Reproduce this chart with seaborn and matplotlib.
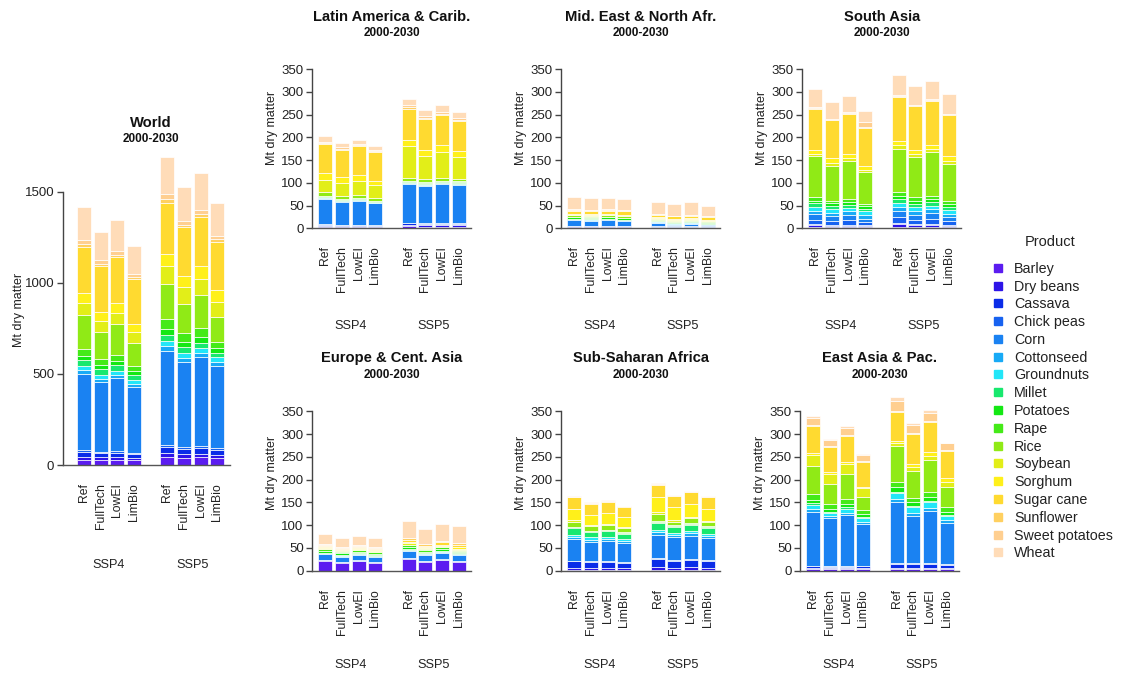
import numpy as np
import matplotlib
matplotlib.use("Agg")
import matplotlib.pyplot as plt
from matplotlib.lines import Line2D
import seaborn as sns

sns.set_theme(style="white")
plt.rcParams['font.family'] = ['Liberation Sans', 'DejaVu Sans']

products = ["Barley", "Dry beans", "Cassava", "Chick peas", "Corn", "Cottonseed",
            "Groundnuts", "Millet", "Potatoes", "Rape", "Rice", "Soybean", "Sorghum",
            "Sugar cane", "Sunflower", "Sweet potatoes", "Wheat"]
colors = ["#5b1cf0", "#2d14e8", "#0a2ce8", "#1762f0", "#1a82f2", "#18aaf6",
          "#22e6f8", "#18e86e", "#14e814", "#44ea18", "#90ea16", "#e2ee18",
          "#fff01a", "#ffda30", "#ffd060", "#ffcf90", "#ffdcb8"]
scenarios = ["Ref", "FullTech", "LowEI", "LimBio"]
ssps = ["SSP4", "SSP5"]
period = "2000-2030"

# rows: products (order above); cols: SSP4 Ref, FullTech, LowEI, LimBio, SSP5 Ref, FullTech, LowEI, LimBio
world = [
    [30, 28, 30, 28, 45, 40, 42, 38],
    [15, 14, 14, 12, 20, 18, 18, 16],
    [25, 22, 24, 20, 35, 30, 32, 28],
    [10, 8, 9, 8, 12, 10, 10, 10],
    [420, 385, 400, 360, 515, 470, 490, 450],
    [20, 18, 20, 18, 25, 22, 24, 22],
    [25, 22, 22, 22, 30, 28, 28, 28],
    [30, 28, 28, 25, 30, 28, 28, 25],
    [25, 22, 24, 22, 35, 30, 30, 28],
    [40, 35, 35, 30, 55, 50, 50, 30],
    [185, 150, 170, 125, 190, 160, 180, 140],
    [65, 60, 60, 60, 100, 90, 90, 80],
    [55, 50, 55, 45, 70, 60, 70, 65],
    [255, 250, 250, 245, 280, 270, 270, 265],
    [15, 14, 15, 15, 20, 15, 18, 15],
    [20, 18, 20, 15, 25, 22, 22, 20],
    [180, 155, 170, 155, 203, 185, 203, 180],
]
latin_america = [
    [2, 2, 2, 2, 4, 3, 3, 3],
    [3, 2, 2, 2, 4, 4, 4, 4],
    [3, 3, 3, 2, 3, 3, 3, 3],
    [1, 1, 1, 1, 1, 1, 1, 1],
    [56, 50, 52, 48, 85, 83, 86, 84],
    [2, 2, 2, 1, 2, 2, 2, 2],
    [1, 1, 1, 1, 1, 1, 1, 1],
    [1, 1, 1, 1, 1, 1, 1, 1],
    [2, 1, 2, 2, 2, 2, 2, 2],
    [1, 1, 1, 1, 2, 2, 2, 2],
    [7, 6, 6, 6, 5, 6, 6, 6],
    [28, 30, 30, 28, 70, 50, 56, 47],
    [15, 12, 14, 10, 15, 15, 15, 14],
    [63, 61, 63, 62, 68, 67, 66, 65],
    [2, 2, 2, 2, 3, 3, 3, 3],
    [3, 3, 3, 3, 5, 4, 5, 5],
    [12, 9, 9, 8, 14, 13, 15, 13],
]
mid_east = [
    [3, 3, 3, 3, 2, 2, 2, 2],
    [1, 1, 1, 1, 1, 1, 1, 1],
    [0, 0, 0, 0, 0, 0, 0, 0],
    [1, 1, 1, 1, 1, 1, 1, 1],
    [13, 12, 13, 11, 8, 4, 6, 3],
    [2, 2, 2, 2, 2, 2, 2, 2],
    [1, 1, 1, 1, 1, 1, 1, 1],
    [0, 0, 0, 0, 0, 0, 0, 0],
    [3, 3, 3, 3, 2, 2, 2, 2],
    [1, 1, 1, 1, 1, 1, 1, 1],
    [4, 4, 4, 4, 3, 3, 3, 3],
    [1, 1, 1, 1, 1, 1, 1, 1],
    [2, 2, 2, 2, 2, 2, 2, 2],
    [7, 7, 7, 7, 6, 6, 6, 6],
    [2, 2, 2, 2, 1, 1, 1, 1],
    [1, 1, 1, 1, 1, 1, 1, 1],
    [26, 26, 25, 24, 26, 26, 27, 22],
]
south_asia = [
    [2, 2, 2, 2, 3, 2, 3, 2],
    [5, 4, 4, 3, 6, 5, 5, 4],
    [2, 2, 2, 2, 3, 2, 2, 2],
    [10, 8, 10, 7, 12, 10, 11, 8],
    [12, 10, 11, 7, 13, 11, 12, 8],
    [8, 8, 8, 8, 9, 8, 9, 8],
    [8, 8, 8, 8, 9, 8, 8, 8],
    [8, 7, 7, 6, 9, 8, 8, 7],
    [6, 6, 6, 5, 8, 7, 7, 6],
    [7, 6, 6, 5, 8, 7, 7, 6],
    [90, 77, 84, 70, 95, 88, 95, 82],
    [6, 6, 6, 5, 7, 7, 7, 8],
    [8, 10, 10, 8, 9, 10, 9, 9],
    [90, 84, 88, 85, 97, 95, 97, 92],
    [2, 1, 1, 2, 2, 2, 2, 1],
    [2, 2, 2, 10, 2, 2, 2, 1],
    [40, 36, 36, 24, 45, 41, 40, 44],
]
europe = [
    [22, 18, 21, 18, 26, 20, 23, 20],
    [1, 1, 1, 1, 1, 1, 1, 1],
    [0, 0, 0, 0, 0, 0, 0, 0],
    [1, 1, 1, 1, 2, 1, 2, 1],
    [12, 11, 11, 10, 14, 13, 14, 12],
    [2, 2, 2, 2, 2, 2, 2, 2],
    [1, 1, 1, 1, 1, 1, 1, 1],
    [1, 1, 1, 1, 1, 1, 1, 1],
    [3, 3, 3, 3, 4, 3, 3, 3],
    [4, 4, 4, 4, 5, 4, 4, 3],
    [1, 1, 1, 1, 1, 1, 1, 1],
    [2, 2, 2, 2, 3, 2, 3, 3],
    [1, 1, 1, 1, 2, 2, 2, 3],
    [3, 2, 3, 3, 5, 4, 5, 6],
    [3, 2, 3, 2, 4, 3, 3, 3],
    [1, 1, 1, 1, 1, 1, 1, 1],
    [22, 20, 21, 21, 38, 33, 37, 38],
]
sub_saharan = [
    [1, 1, 1, 1, 1, 1, 1, 1],
    [6, 5, 5, 5, 8, 6, 7, 6],
    [14, 14, 14, 12, 17, 15, 16, 15],
    [1, 1, 1, 1, 1, 1, 1, 1],
    [48, 43, 45, 42, 52, 50, 52, 48],
    [4, 4, 4, 4, 5, 5, 5, 5],
    [5, 5, 5, 4, 6, 5, 5, 5],
    [14, 12, 12, 12, 15, 13, 14, 13],
    [2, 2, 2, 2, 3, 2, 2, 2],
    [1, 1, 1, 1, 2, 2, 2, 2],
    [12, 10, 10, 10, 15, 8, 10, 8],
    [3, 3, 3, 3, 4, 3, 3, 3],
    [25, 22, 24, 20, 32, 28, 28, 27],
    [25, 24, 25, 24, 28, 25, 27, 26],
    [1, 1, 1, 1, 1, 1, 1, 1],
    [1, 1, 1, 1, 1, 1, 1, 1],
    [1, 1, 1, 0, 1, 1, 0, 0],
]
east_asia = [
    [4, 3, 3, 4, 3, 3, 3, 3],
    [3, 3, 3, 3, 4, 4, 4, 4],
    [3, 3, 3, 3, 8, 8, 8, 6],
    [1, 1, 1, 1, 1, 1, 1, 1],
    [119, 105, 112, 92, 134, 104, 115, 90],
    [5, 5, 5, 5, 8, 7, 7, 7],
    [10, 7, 9, 7, 12, 12, 12, 10],
    [3, 2, 3, 2, 3, 3, 3, 2],
    [8, 7, 8, 7, 10, 8, 8, 7],
    [12, 10, 10, 10, 12, 10, 12, 10],
    [62, 44, 55, 28, 78, 60, 70, 45],
    [25, 22, 22, 20, 8, 8, 8, 10],
    [3, 5, 4, 3, 5, 7, 10, 8],
    [60, 55, 58, 55, 63, 65, 65, 60],
    [3, 2, 2, 2, 3, 3, 3, 3],
    [15, 14, 16, 13, 22, 18, 18, 14],
    [3, 2, 3, 2, 8, 4, 6, 1],
]

W, H = 1122, 677
fig = plt.figure(figsize=(W / 100, H / 100), dpi=100)
pal = sns.color_palette(colors)

positions = np.array([0, 1.2, 2.4, 3.6, 6.0, 7.2, 8.4, 9.6])
PXU = 13.9  # pixels per x unit
ink = "#222222"


def panel(left_px, zero_px, data, ypx_per_unit, ymax, ytop, yticks, xlo):
    xhi = 10.5
    wpx = (xhi - xlo) * PXU
    hpx = ytop * ypx_per_unit
    ax = fig.add_axes([left_px / W, 1 - zero_px / H, wpx / W, hpx / H])
    arr = np.array(data, dtype=float)
    bottom = np.zeros(arr.shape[1])
    for i, row in enumerate(arr):
        ax.bar(positions, row, width=1.0, bottom=bottom, color=pal[i],
               edgecolor="white", linewidth=0.5)
        bottom += row
    ax.set_xlim(xlo, xhi)
    ax.set_ylim(0, ytop)
    sns.despine(ax=ax, top=True, right=True)
    ax.spines['left'].set_bounds(0, ymax)
    ax.spines['left'].set_color("#444444")
    ax.spines['bottom'].set_color("#555555")
    ax.spines['left'].set_linewidth(1.0)
    ax.spines['bottom'].set_linewidth(1.0)
    ax.set_yticks(yticks)
    ax.set_yticklabels([str(t) for t in yticks])
    ax.tick_params(axis='y', which='both', left=True, length=4, width=1,
                   color="#444444", labelsize=9.5, labelcolor=ink, pad=2)
    ax.set_xticks(positions)
    ax.set_xticklabels(scenarios * 2, rotation=90, va='top', ha='center')
    ax.tick_params(axis='x', length=0, labelsize=8.8, labelcolor=ink, pad=13)
    ax.grid(False)
    ax.patch.set_alpha(0)

    def xpix(x):
        return left_px + (x - xlo) * PXU

    cx = xpix((positions[0] + positions[-1]) / 2)
    return ax, xpix, cx


def decorate(ax, xpix, cx, zero_px, title, title_dy, sub_dy, ylab_dx, ylab_dy, ssp_dy):
    fig.text(cx / W, 1 - (zero_px - title_dy) / H, title, ha='center', va='center',
             fontsize=10.6, fontweight='bold', color="#111111")
    fig.text(cx / W, 1 - (zero_px - sub_dy) / H, period, ha='center', va='center',
             fontsize=8.5, fontweight='bold', color="#111111")
    fig.text((xpix(ax.get_xlim()[0]) - ylab_dx) / W, 1 - (zero_px - ylab_dy) / H,
             "Mt dry matter", rotation=90, ha='center', va='center', fontsize=9, color=ink)
    for k, s in enumerate(ssps):
        xm = positions[4 * k:4 * k + 4].mean()
        fig.text(xpix(xm) / W, 1 - (zero_px + ssp_dy) / H, s, ha='center', va='center',
                 fontsize=9.2, color=ink)


# World panel
ax, xp, cx = panel(62.7, 465, world, 0.182, 1500, 1800, [0, 500, 1000, 1500], -1.53)
decorate(ax, xp, cx, 465, "World", 342, 326, 44, 155, 100)

small_yt = [0, 50, 100, 150, 200, 250, 300, 350]
top_row = [(312, latin_america, "Latin America & Carib."),
           (561, mid_east, "Mid. East & North Afr."),
           (802, south_asia, "South Asia")]
bottom_row = [(312, europe, "Europe & Cent. Asia"),
              (561, sub_saharan, "Sub-Saharan Africa"),
              (800, east_asia, "East Asia & Pac.")]
for lp, d, t in top_row:
    ax, xp, cx = panel(lp, 228.3, d, 0.455, 350, 410, small_yt, -0.95)
    decorate(ax, xp, cx, 228.3, t, 211, 195, 40, 100, 98)
for lp, d, t in bottom_row:
    ax, xp, cx = panel(lp, 570.7, d, 0.455, 350, 410, small_yt, -0.95)
    decorate(ax, xp, cx, 570.7, t, 213, 196, 40, 98, 94)

fig.text(1050 / W, 1 - 242 / H, "Product", ha='center', va='center', fontsize=10.5, color=ink)
handles = [Line2D([], [], marker='s', linestyle='', markersize=6, color=pal[i],
                  markeredgecolor=pal[i]) for i in range(len(products))]
leg = fig.legend(handles, products, loc='upper left',
                 bbox_to_anchor=(985 / W, 1 - 256 / H), frameon=False, fontsize=10.3,
                 labelspacing=0.265, handletextpad=0.65,
                 handlelength=1.0, borderaxespad=0)
for txt in leg.get_texts():
    txt.set_color(ink)

fig.savefig("out.png", dpi=100)
